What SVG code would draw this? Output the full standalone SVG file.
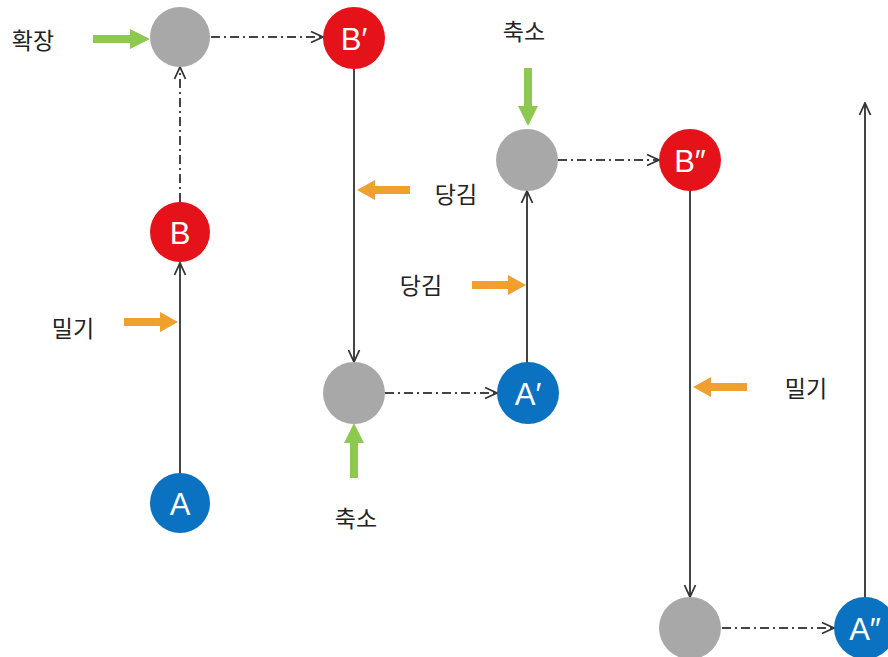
<svg xmlns="http://www.w3.org/2000/svg" width="888" height="657" viewBox="0 0 888 657">
<defs>
<marker id="open" viewBox="0 0 14 14" refX="13" refY="7" markerWidth="14" markerHeight="14" markerUnits="userSpaceOnUse" orient="auto">
<path d="M1,1.5 L13,7 L1,12.5" fill="none" stroke="#333" stroke-width="1.8"/>
</marker>
</defs>
<style>
.lbl{font-family:"Noto Sans CJK KR","Noto Sans",sans-serif;font-size:23px;fill:#222;text-anchor:middle;dominant-baseline:central}
.nl{font-family:"Liberation Sans",Arial,sans-serif;font-size:31px;fill:#fff;text-anchor:middle;dominant-baseline:central}
.gray{fill:#a8a8a8}
.red{fill:#e5121a}
.blue{fill:#0b72c1}
.solid{stroke:#444;stroke-width:2;fill:none;marker-end:url(#open)}
.dash{stroke:#444;stroke-width:2;fill:none;stroke-dasharray:9 4 2 4;marker-end:url(#open)}
.green{fill:#8dc84f}
.orange{fill:#f0a02e}
</style>
<rect width="888" height="657" fill="#fff"/>
<g id="connectors">
<line class="solid" x1="180" y1="473" x2="180" y2="263"/>
<line class="dash" x1="180" y1="202" x2="180" y2="67"/>
<line class="dash" x1="211" y1="37" x2="323" y2="37"/>
<line class="solid" x1="354" y1="68" x2="354" y2="362"/>
<line class="dash" x1="385" y1="393" x2="497" y2="393"/>
<line class="solid" x1="527" y1="363" x2="527" y2="191"/>
<line class="dash" x1="558" y1="160" x2="659" y2="160"/>
<line class="solid" x1="690" y1="190" x2="690" y2="597"/>
<line class="dash" x1="722" y1="628" x2="834" y2="628"/>
<line class="solid" x1="865" y1="598" x2="865" y2="103"/>
</g>
<g id="forces">
<path class="green" d="M93,35 L130,35 L130,29 L150,39 L130,49 L130,43 L93,43 Z"/>
<path class="green" d="M524,68 L532,68 L532,106 L538,106 L528,126 L518,106 L524,106 Z"/>
<path class="green" d="M350,478 L358,478 L358,443 L364,443 L354,423 L344,443 L350,443 Z"/>
<path class="orange" d="M124,318 L160,318 L160,312 L178,322 L160,332 L160,326 L124,326 Z"/>
<path class="orange" d="M410,186 L375,186 L375,180 L357,190 L375,200 L375,194 L410,194 Z"/>
<path class="orange" d="M472,281 L508,281 L508,275 L526,285 L508,295 L508,289 L472,289 Z"/>
<path class="orange" d="M747,383 L711,383 L711,377 L693,387 L711,397 L711,391 L747,391 Z"/>
</g>
<g id="labels">
<text class="lbl" x="33" y="39">확장</text>
<text class="lbl" x="524" y="30">축소</text>
<text class="lbl" x="356" y="517">축소</text>
<text class="lbl" x="73" y="327">밀기</text>
<text class="lbl" x="456" y="193">당김</text>
<text class="lbl" x="421" y="284">당김</text>
<text class="lbl" x="806" y="387">밀기</text>
</g>
<g id="n-gray1"><circle class="gray" cx="180" cy="37" r="30"/></g>
<g id="n-B1"><circle class="red" cx="354" cy="38" r="31"/><text class="nl" x="354" y="39">B′</text></g>
<g id="n-B"><circle class="red" cx="180" cy="232" r="30"/><text class="nl" x="180" y="233">B</text></g>
<g id="n-A"><circle class="blue" cx="180" cy="503" r="30"/><text class="nl" x="180" y="504">A</text></g>
<g id="n-gray2"><circle class="gray" cx="354" cy="393" r="31"/></g>
<g id="n-A1"><circle class="blue" cx="528" cy="393" r="31"/><text class="nl" x="528" y="394">A′</text></g>
<g id="n-gray3"><circle class="gray" cx="527" cy="160" r="31"/></g>
<g id="n-B2"><circle class="red" cx="690" cy="160" r="31"/><text class="nl" x="690" y="161">B″</text></g>
<g id="n-gray4"><circle class="gray" cx="690" cy="628" r="31"/></g>
<g id="n-A2"><circle class="blue" cx="865" cy="628" r="31"/><text class="nl" x="865" y="629">A″</text></g>
</svg>
